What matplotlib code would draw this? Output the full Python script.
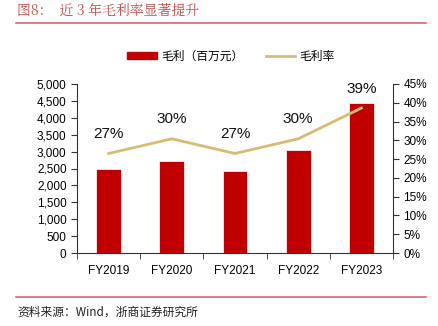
import matplotlib
matplotlib.use("Agg")
import matplotlib.pyplot as plt
from matplotlib.lines import Line2D
from matplotlib.patches import Patch
import numpy as np

plt.rcParams['font.family'] = ['Liberation Sans', 'Noto Sans CJK SC', 'DejaVu Sans']

categories = ["FY2019", "FY2020", "FY2021", "FY2022", "FY2023"]
gross_profit = [2490, 2710, 2420, 3050, 4430]
gross_margin = [26.5, 30.4, 26.5, 30.4, 38.6]
margin_labels = ["27%", "30%", "27%", "30%", "39%"]
left_ticks = [0, 500, 1000, 1500, 2000, 2500, 3000, 3500, 4000, 4500, 5000]
right_ticks = [0, 5, 10, 15, 20, 25, 30, 35, 40, 45]

W, H = 438, 326
fig = plt.figure(figsize=(W / 100, H / 100), dpi=100)
ax = fig.add_axes([77 / W, 1 - 253 / H, (393 - 77) / W, (253 - 84) / H])
ax2 = ax.twinx()

x = np.arange(len(categories))
bar_color = "#C00000"
line_color = "#D9BC74"
ax.bar(x, gross_profit, width=0.39, color=bar_color, edgecolor="white", linewidth=0.5, zorder=2)
ax.set_xlim(-0.5, len(categories) - 0.5)
ax.set_ylim(0, 5000)
ax.set_yticks(left_ticks)
ax.set_yticklabels([f"{v:,}" for v in left_ticks])

ax2.plot(x, gross_margin, color=line_color, linewidth=2, zorder=3)
ax2.set_ylim(0, 45)
ax2.set_yticks(right_ticks)
ax2.set_yticklabels([f"{v}%" for v in right_ticks])
for xi, yi, lab in zip(x, gross_margin, margin_labels):
    ax2.annotate(lab, (xi, yi), xytext=(0, 9), textcoords="offset points",
                 ha="center", va="bottom", fontsize=11, color="#111111")

ax.set_xticks(x)
ax.set_xticklabels(categories)
ax.set_xticks(np.arange(-0.5, len(categories), 1), minor=True)
ax.tick_params(axis="x", which="major", length=0, pad=9, labelsize=8.5)
ax.tick_params(axis="x", which="minor", length=4, direction="out", color="#333333")
ax.tick_params(axis="y", length=4, direction="out", labelsize=8.5, color="#333333")
ax2.tick_params(axis="y", length=4, direction="out", labelsize=8.5, color="#333333")

for a in (ax, ax2):
    a.spines["top"].set_visible(False)
    for s in ("left", "right", "bottom"):
        a.spines[s].set_color("#333333")
        a.spines[s].set_linewidth(0.8)
ax.spines["right"].set_visible(False)
ax2.spines["left"].set_visible(False)
ax2.spines["bottom"].set_visible(False)

handles = [Patch(color=bar_color), Line2D([0], [0], color=line_color, linewidth=2)]
fig.legend(handles, ["毛利（百万元）", "毛利率"], loc="center", bbox_to_anchor=(231 / W, 1 - 56 / H),
           ncol=2, frameon=False, handlelength=2.5, handleheight=0.6,
           columnspacing=1.9, handletextpad=0.35,
           prop={'family': ['Noto Sans CJK SC', 'DejaVu Sans'], 'size': 8.5})

title_red = "#C0504D"
fig.text(17 / W, 1 - 11 / H, "图8：  近 3 年毛利率显著提升", color=title_red, fontsize=10,
         va="center", ha="left", family=['Noto Serif CJK SC', 'Noto Sans CJK SC', 'DejaVu Sans'])
fig.add_artist(Line2D([16 / W, 426 / W], [1 - 23 / H, 1 - 23 / H], color="#D9686A", linewidth=1.2))
fig.add_artist(Line2D([16 / W, 426 / W], [1 - 297 / H, 1 - 297 / H], color="#D9686A", linewidth=1.2))
fig.text(17 / W, 1 - 312 / H, "资料来源：Wind，浙商证券研究所", color="#222222", fontsize=8.5,
         va="center", ha="left", family=['Noto Sans CJK SC', 'DejaVu Sans'])

fig.savefig("out.png", dpi=100)
